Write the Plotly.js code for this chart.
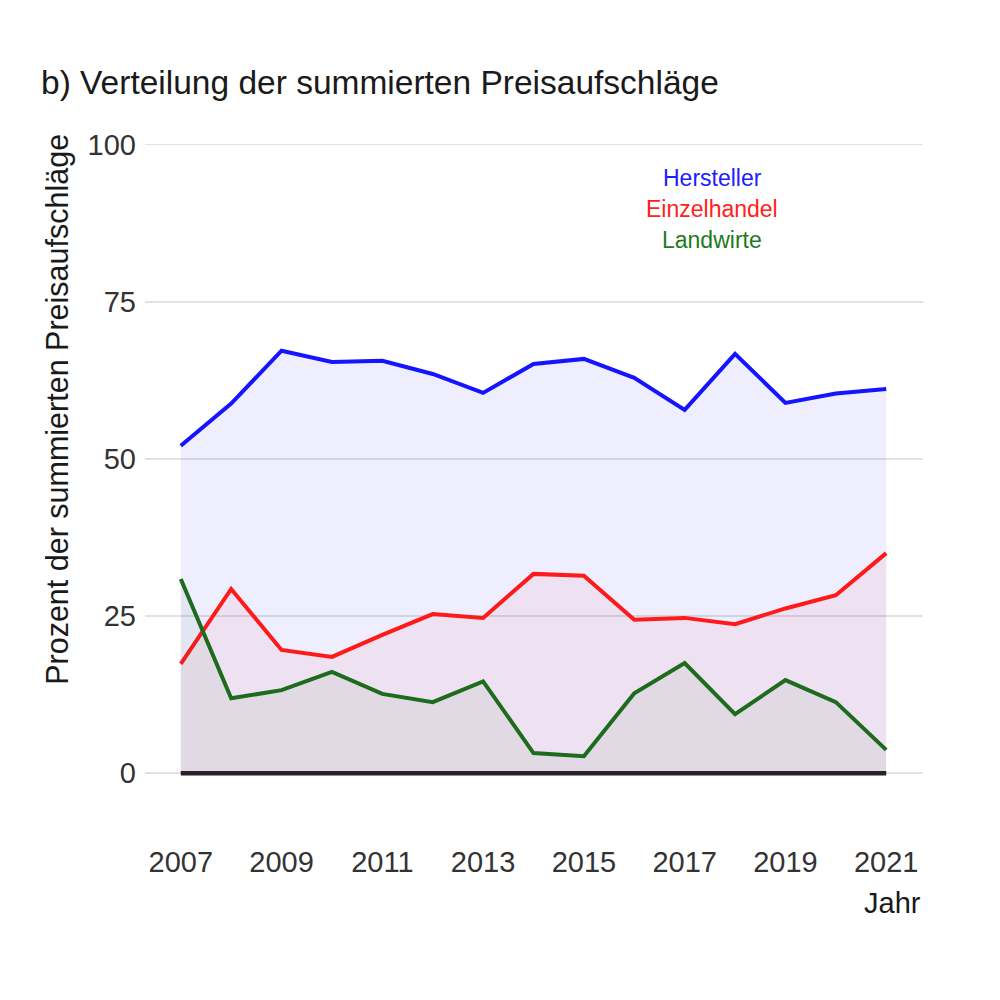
<!DOCTYPE html>
<html>
<head>
<meta charset="utf-8">
<script src="https://cdn.plot.ly/plotly-3.0.1.min.js"></script>
<style>html,body{margin:0;padding:0;background:#fff;}#chart{width:1000px;height:1000px;}</style>
</head>
<body>
<div id="chart"></div>
<script>
const years = [2007,2008,2009,2010,2011,2012,2013,2014,2015,2016,2017,2018,2019,2020,2021];
const hersteller   = [52.1,58.8,67.2,65.4,65.6,63.5,60.5,65.1,65.9,62.9,57.8,66.7,58.9,60.4,61.1];
const einzelhandel = [17.4,29.3,19.6,18.5,22.0,25.3,24.7,31.7,31.4,24.4,24.7,23.7,26.2,28.3,35.0];
const landwirte    = [30.9,11.9,13.2,16.1,12.6,11.3,14.6,3.2,2.7,12.7,17.5,9.4,14.8,11.3,3.7];
const baseline     = [0,0,0,0,0,0,0,0,0,0,0,0,0,0,0];
const yTicks = [0,25,50,75,100];
const xTicks = [2007,2009,2011,2013,2015,2017,2019,2021];
const seriesNames = ['Hersteller','Einzelhandel','Landwirte'];

const FONT = 'Liberation Sans, Arial, sans-serif';
const cBlue = '#1414ff', cRed = '#ff1a1a', cGreen = '#1e6b1e';

const traces = [
  {x: years, y: hersteller, mode:'lines', fill:'tozeroy', fillcolor:'rgba(0,0,255,0.065)',
   line:{color:cBlue, width:4}, name:seriesNames[0], hoverinfo:'x+y'},
  {x: years, y: einzelhandel, mode:'lines', fill:'tozeroy', fillcolor:'rgba(255,0,0,0.05)',
   line:{color:cRed, width:4}, name:seriesNames[1], hoverinfo:'x+y'},
  {x: years, y: landwirte, mode:'lines', fill:'tozeroy', fillcolor:'rgba(0,100,0,0.05)',
   line:{color:cGreen, width:4}, name:seriesNames[2], hoverinfo:'x+y'},
  {x: years, y: baseline, mode:'lines', line:{color:'#2a2226', width:4.5}, showlegend:false, hoverinfo:'skip'}
];

const layout = {
  width:1000, height:1000,
  paper_bgcolor:'#ffffff', plot_bgcolor:'#ffffff',
  margin:{l:145, r:77, t:132.4, b:164.2},
  showlegend:false,
  font:{family:FONT, color:'#222222'},
  title:{text:'b) Verteilung der summierten Preisaufschläge', x:0.041, xanchor:'left', xref:'container',
         y:0.918, yanchor:'middle', yref:'container', font:{family:FONT, size:33.5, color:'#1a1a1a'}},
  xaxis:{range:[2006.29, 2021.73], tickvals:xTicks, ticktext:xTicks.map(String), showgrid:false,
         zeroline:false, showline:false, ticks:'', tickfont:{family:FONT, size:29, color:'#333333'},
         ticklabelstandoff:6},
  yaxis:{range:[-10, 102], tickvals:yTicks, ticktext:yTicks.map(String), showgrid:true,
         gridcolor:'#e2e2e2', gridwidth:1.6, zeroline:false, showline:false, ticks:'',
         tickfont:{family:FONT, size:29, color:'#333333'}, ticklabelstandoff:8},
  annotations:[
    {text:'Hersteller', xref:'paper', yref:'paper', x:(712-145)/778, y:(835.8-178)/703.4, xanchor:'center', yanchor:'middle',
     showarrow:false, font:{family:FONT, size:23, color:'#2020ff'}},
    {text:'Einzelhandel', xref:'paper', yref:'paper', x:(712-145)/778, y:(835.8-209)/703.4, xanchor:'center', yanchor:'middle',
     showarrow:false, font:{family:FONT, size:23, color:'#ff2020'}},
    {text:'Landwirte', xref:'paper', yref:'paper', x:(712-145)/778, y:(835.8-240)/703.4, xanchor:'center', yanchor:'middle',
     showarrow:false, font:{family:FONT, size:23, color:'#1e7a1e'}},
    {text:'Prozent der summierten Preisaufschläge', xref:'paper', yref:'paper', x:(58-145)/778, y:(835.8-410)/703.4,
     xanchor:'center', yanchor:'middle', textangle:-90, showarrow:false, font:{family:FONT, size:30.5, color:'#1a1a1a'}},
    {text:'Jahr', xref:'paper', yref:'paper', x:(923-145)/778, y:(835.8-903)/703.4, xanchor:'right', yanchor:'middle',
     showarrow:false, font:{family:FONT, size:29, color:'#1a1a1a'}}
  ]
};

Plotly.newPlot('chart', traces, layout, {staticPlot:true, displayModeBar:false});
</script>
</body>
</html>
